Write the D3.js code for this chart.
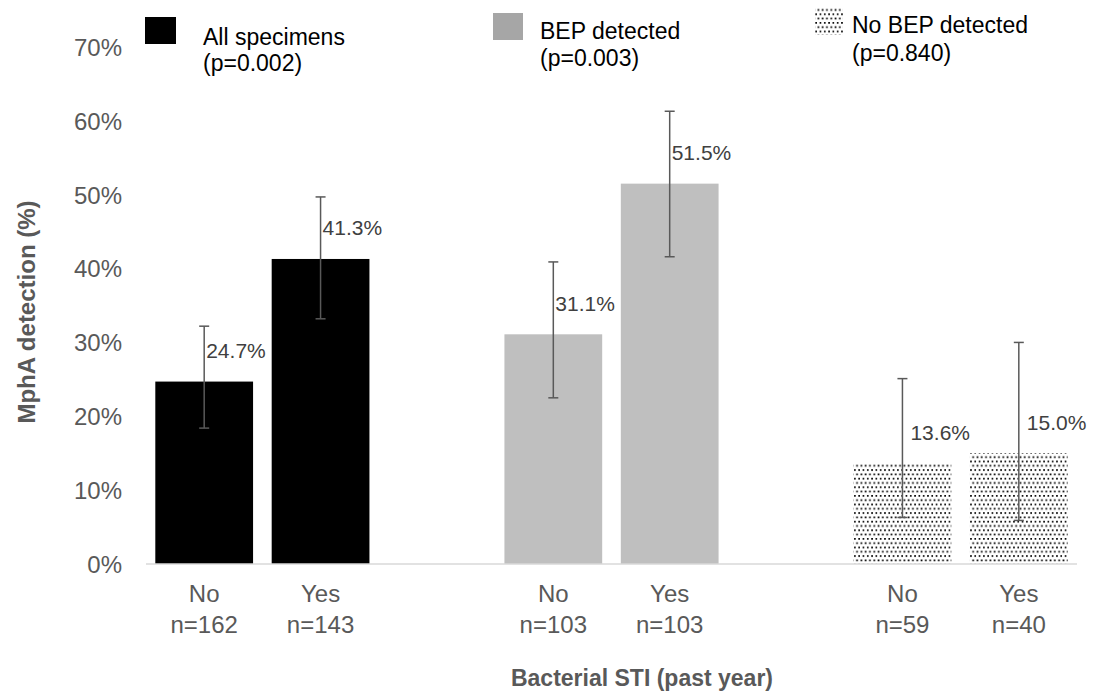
<!DOCTYPE html>
<html>
<head>
<meta charset="utf-8">
<script src="https://cdn.jsdelivr.net/npm/d3@7"></script>
<style>
  html, body { margin: 0; padding: 0; background: #fff; }
  svg { display: block; font-family: "Liberation Sans", Arial, sans-serif; }
</style>
</head>
<body>
<svg id="chart" width="1093" height="693"></svg>
<script>
// Slots along the x axis; empty slots separate the three groups
const slots = ["a-no", "a-yes", "gap1", "b-no", "b-yes", "gap2", "c-no", "c-yes"];
const categories = ["a-no", "a-yes", "b-no", "b-yes", "c-no", "c-yes"];
const groups = ["all", "all", "bep", "bep", "nobep", "nobep"];
const answerLabels = ["No", "Yes", "No", "Yes", "No", "Yes"];
const nLabels = ["n=162", "n=143", "n=103", "n=103", "n=59", "n=40"];
const values = [24.7, 41.3, 31.1, 51.5, 13.6, 15.0];
const ciLow = [18.4, 33.2, 22.5, 41.6, 6.3, 5.9];
const ciHigh = [32.2, 49.7, 40.9, 61.3, 25.1, 30.0];
const yTicks = [0, 10, 20, 30, 40, 50, 60, 70];
const legendNames = ["All specimens", "BEP detected", "No BEP detected"];
const legendP = ["(p=0.002)", "(p=0.003)", "(p=0.840)"];

const svg = d3.select("#chart");
const plot = { left: 146, right: 1077, top: 47, bottom: 564 };

// Dotted fill for the "No BEP detected" series
const defs = svg.append("defs");
const pat = defs.append("pattern")
  .attr("id", "dots")
  .attr("patternUnits", "userSpaceOnUse")
  .attr("width", 4.3).attr("height", 8.6);
pat.append("rect").attr("width", 4.3).attr("height", 8.6).attr("fill", "#fff");
pat.append("rect").attr("x", 0.5).attr("y", 0.5).attr("width", 1.7).attr("height", 1.7).attr("fill", "#000");
pat.append("rect").attr("x", 2.65).attr("y", 4.8).attr("width", 1.7).attr("height", 1.7).attr("fill", "#000");

const fills = { all: "#000000", bep: "#bfbfbf", nobep: "url(#dots)" };
const legendFills = ["#000000", "#a6a6a6", "url(#dots)"];

const x = d3.scaleBand().domain(slots).range([plot.left, plot.right]).paddingInner(0.16).paddingOuter(0.08);
const y = d3.scaleLinear().domain([0, 70]).range([plot.bottom, plot.top]);

// Y axis tick labels (no axis line, no gridlines)
const yAxis = d3.axisLeft(y).tickValues(yTicks).tickSize(0).tickPadding(0).tickFormat(d => d + "%");
const yG = svg.append("g").attr("transform", "translate(122,0)").call(yAxis);
yG.select(".domain").remove();
yG.selectAll("text")
  .attr("fill", "#595959")
  .style("font-size", "24px")
  .style("font-family", "Liberation Sans, Arial, sans-serif")
  .attr("dy", "0.35em");

// Bars
const data = categories.map((c, i) => ({
  c, g: groups[i], v: values[i], lo: ciLow[i], hi: ciHigh[i],
  ans: answerLabels[i], n: nLabels[i]
}));

svg.append("g").selectAll("rect")
  .data(data).join("rect")
  .attr("x", d => x(d.c))
  .attr("width", x.bandwidth())
  .attr("y", d => y(d.v))
  .attr("height", d => y(0) - y(d.v))
  .attr("fill", d => fills[d.g]);

// Baseline
svg.append("line")
  .attr("x1", plot.left).attr("x2", plot.right)
  .attr("y1", y(0)).attr("y2", y(0))
  .attr("stroke", "#d9d9d9").attr("stroke-width", 1.5);

// Error bars
const eb = svg.append("g").attr("stroke", "#595959").attr("stroke-width", 1.5);
data.forEach(d => {
  const cx = x(d.c) + x.bandwidth() / 2;
  eb.append("line").attr("x1", cx).attr("x2", cx).attr("y1", y(d.hi)).attr("y2", y(d.lo));
  eb.append("line").attr("x1", cx - 5).attr("x2", cx + 5).attr("y1", y(d.hi)).attr("y2", y(d.hi));
  eb.append("line").attr("x1", cx - 5).attr("x2", cx + 5).attr("y1", y(d.lo)).attr("y2", y(d.lo));
});

// Value labels
svg.append("g").selectAll("text")
  .data(data).join("text")
  .attr("x", d => x(d.c) + x.bandwidth() / 2 + (d.g === "nobep" ? 8 : 2))
  .attr("y", d => y(d.v) - 31)
  .attr("dy", "0.35em")
  .attr("fill", "#404040")
  .style("font-size", "21px")
  .text(d => d.v.toFixed(1) + "%");

// Category labels
const cat = svg.append("g").attr("fill", "#595959").style("font-size", "24px").attr("text-anchor", "middle");
data.forEach(d => {
  const cx = x(d.c) + x.bandwidth() / 2;
  cat.append("text").attr("x", cx).attr("y", 602).text(d.ans);
  cat.append("text").attr("x", cx).attr("y", 633).text(d.n);
});

// Axis titles
svg.append("text")
  .attr("transform", "translate(35,312) rotate(-90)")
  .attr("text-anchor", "middle")
  .attr("fill", "#595959")
  .style("font-size", "24px").style("font-weight", "bold")
  .text("MphA detection (%)");

svg.append("text")
  .attr("x", 642).attr("y", 686)
  .attr("text-anchor", "middle")
  .attr("fill", "#595959")
  .style("font-size", "23px").style("font-weight", "bold")
  .text("Bacterial STI (past year)");

// Legend
const legendPos = [
  { sx: 145, sy: 17, w: 31, h: 27, tx: 203, ty: 45, gap: 26 },
  { sx: 493, sy: 13, w: 30, h: 27, tx: 540, ty: 39, gap: 27 },
  { sx: 815, sy: 8, w: 28, h: 27, tx: 852, ty: 33, gap: 28 }
];
legendNames.forEach((name, i) => {
  const p = legendPos[i];
  svg.append("rect").attr("x", p.sx).attr("y", p.sy).attr("width", p.w).attr("height", p.h)
    .attr("fill", legendFills[i]);
  const t = svg.append("text").attr("x", p.tx).attr("y", p.ty).attr("fill", "#000").style("font-size", "23px");
  t.append("tspan").attr("x", p.tx).text(name);
  t.append("tspan").attr("x", p.tx).attr("dy", p.gap).text(legendP[i]);
});
</script>
</body>
</html>
